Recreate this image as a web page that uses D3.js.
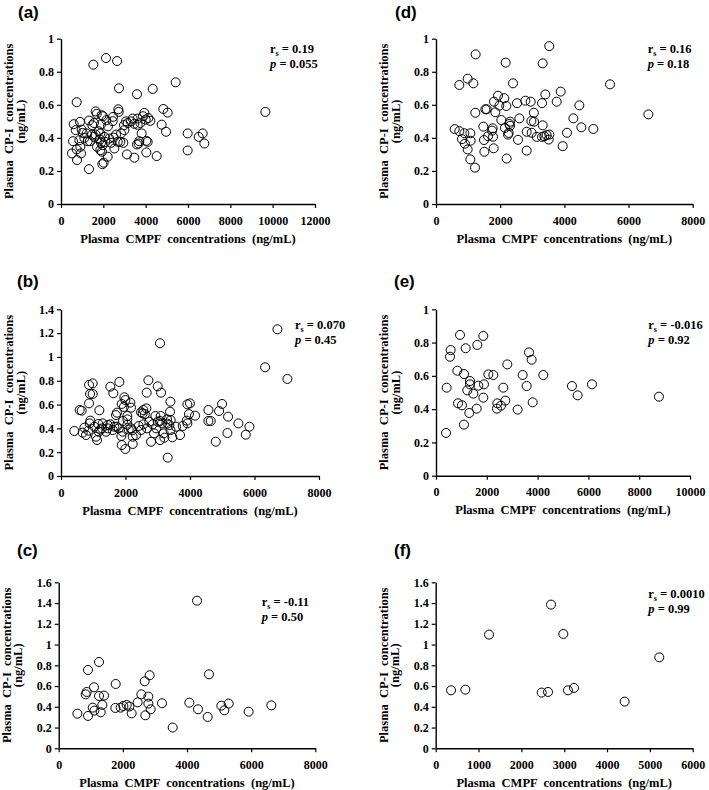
<!DOCTYPE html>
<html><head><meta charset="utf-8">
<script src="https://cdn.jsdelivr.net/npm/d3@7"></script>
<style>body{margin:0;background:#fff}svg text{white-space:pre}</style>
</head><body>
<svg id="chart" width="709" height="790"></svg>
<script>
// ---- data: [CMPF (ng/mL), CP-I (ng/mL)] ----
const dataA = [[740,0.616],[600,0.483],[898,0.497],[693,0.447],[977,0.45],[567,0.38],[866,0.386],[520,0.306],[756,0.266],[945,0.306],[740,0.33],[1323,0.211],[1638,0.56],[1323,0.505],[1559,0.49],[1480,0.477],[1685,0.545],[1921,0.537],[1985,0.531],[2142,0.507],[2457,0.527],[2709,0.573],[2725,0.557],[1890,0.481],[2441,0.501],[1213,0.427],[1465,0.419],[1103,0.40],[1370,0.38],[1575,0.406],[1859,0.427],[2048,0.406],[1890,0.37],[1969,0.356],[1859,0.326],[1937,0.316],[1701,0.346],[2284,0.396],[2489,0.402],[2678,0.376],[2835,0.427],[2804,0.376],[2945,0.37],[2520,0.336],[2977,0.477],[3150,0.49],[2993,0.447],[3386,0.517],[3622,0.517],[3874,0.531],[3748,0.49],[3622,0.479],[3937,0.551],[4221,0.503],[3811,0.427],[3701,0.38],[4032,0.382],[3670,0.366],[4095,0.376],[4032,0.312],[3118,0.30],[3465,0.28],[4520,0.29],[4756,0.48],[4961,0.437],[4835,0.575],[5040,0.553],[1953,0.241],[2016,0.25],[2205,0.286],[3591,0.664],[914,0.346],[1528,0.843],[2126,0.883],[2650,0.865],[2740,0.70],[4331,0.696],[5418,0.736],[9655,0.557],[5985,0.427],[5985,0.324],[6505,0.406],[6694,0.427],[6772,0.366],[1023,0.43],[1260,0.38],[1638,0.42],[1843,0.39],[2095,0.375],[2362,0.37],[2600,0.42],[3071,0.50],[3307,0.50],[3465,0.485],[4127,0.52],[3591,0.36],[4000,0.51],[1780,0.44],[2220,0.47]];
const dataB = [[869,0.765],[982,0.778],[900,0.689],[982,0.689],[869,0.61],[579,0.554],[641,0.549],[1189,0.552],[1530,0.75],[1623,0.695],[1810,0.79],[2709,0.804],[2657,0.70],[2999,0.753],[3102,0.70],[1965,0.661],[1996,0.638],[1882,0.605],[2151,0.616],[2171,0.574],[1737,0.532],[1706,0.512],[2058,0.504],[2058,0.476],[2482,0.535],[2554,0.554],[2533,0.526],[2647,0.568],[3392,0.624],[3381,0.54],[2926,0.504],[3092,0.504],[2844,0.434],[2999,0.456],[3071,0.462],[3133,0.442],[3288,0.476],[3361,0.428],[3392,0.386],[3454,0.325],[3205,0.322],[3071,0.302],[2792,0.288],[2885,0.358],[3185,0.358],[2668,0.40],[2554,0.434],[2482,0.386],[2740,0.456],[2213,0.384],[2171,0.40],[2223,0.33],[2327,0.344],[2058,0.431],[1923,0.462],[1913,0.372],[1872,0.336],[1882,0.26],[1996,0.227],[2223,0.269],[1727,0.414],[1654,0.414],[1530,0.434],[1448,0.428],[1293,0.442],[1158,0.437],[1034,0.414],[910,0.465],[889,0.442],[724,0.406],[672,0.364],[776,0.344],[848,0.381],[414,0.378],[1086,0.33],[1117,0.302],[1168,0.372],[1396,0.372],[1448,0.40],[1603,0.386],[3309,0.154],[3567,0.414],[3691,0.344],[6328,0.913],[7021,0.815],[3919,0.602],[3998,0.61],[3968,0.52],[4157,0.507],[3899,0.465],[3919,0.442],[3774,0.42],[4571,0.554],[4994,0.605],[4901,0.546],[4570,0.462],[4643,0.462],[5181,0.498],[5501,0.442],[5843,0.414],[5729,0.347],[5160,0.361],[4798,0.288],[3070,1.115],[6711,1.232],[1272,0.40],[1790,0.40],[2410,0.42],[2950,0.40],[3300,0.44],[1220,0.39],[2600,0.52],[3400,0.47],[2100,0.39],[1950,0.58]];
const dataC = [[582,0.334],[914,0.312],[914,0.755],[1257,0.832],[842,0.52],[873,0.543],[1101,0.588],[1257,0.504],[1413,0.508],[1060,0.392],[1112,0.363],[1309,0.347],[1361,0.418],[1766,0.389],[1777,0.62],[1932,0.392],[2016,0.408],[2120,0.418],[2203,0.402],[2275,0.337],[2462,0.443],[2577,0.52],[2681,0.646],[2701,0.318],[2795,0.498],[2795,0.431],[2836,0.704],[2867,0.376],[3221,0.434],[3553,0.20],[4073,0.44],[4312,1.423],[4343,0.376],[4644,0.302],[4686,0.713],[5070,0.411],[5164,0.366],[5299,0.431],[5922,0.353],[6629,0.414]];
const dataD = [[2172,0.855],[3325,0.851],[727,0.72],[987,0.758],[1164,0.73],[2400,0.73],[1932,0.655],[2130,0.64],[1808,0.619],[1974,0.595],[2192,0.593],[2525,0.61],[2784,0.625],[2951,0.619],[3304,0.61],[3408,0.663],[3761,0.619],[3886,0.68],[1226,0.552],[1538,0.573],[1579,0.573],[1849,0.555],[2036,0.508],[2307,0.498],[2598,0.518],[2972,0.502],[3055,0.498],[3050,0.552],[1475,0.468],[1766,0.458],[1746,0.444],[1621,0.41],[2150,0.46],[2286,0.484],[2307,0.473],[2265,0.43],[2556,0.388],[2244,0.42],[2826,0.437],[2982,0.431],[3138,0.406],[3325,0.476],[3304,0.406],[3377,0.41],[3449,0.417],[3533,0.42],[3512,0.39],[3948,0.35],[4083,0.431],[582,0.453],[727,0.441],[883,0.428],[1070,0.428],[810,0.392],[1080,0.383],[987,0.33],[1070,0.27],[1216,0.22],[1496,0.387],[1507,0.316],[1797,0.337],[1777,0.407],[2203,0.275],[2826,0.323],[3530,0.955],[1236,0.905],[5424,0.724],[6618,0.542],[4468,0.597],[4281,0.518],[4530,0.464],[4904,0.454],[900,0.365]];
const dataE = [[420,0.529],[394,0.257],[577,0.755],[551,0.715],[945,0.846],[1863,0.84],[1168,0.766],[1627,0.786],[840,0.631],[1102,0.611],[1338,0.569],[1338,0.549],[1233,0.513],[1469,0.493],[1666,0.541],[1889,0.549],[2060,0.609],[2257,0.605],[2808,0.669],[3661,0.741],[3765,0.697],[3411,0.605],[3569,0.539],[4225,0.605],[2650,0.529],[1863,0.469],[866,0.435],[1023,0.423],[1312,0.377],[1601,0.403],[2414,0.435],[2401,0.403],[2559,0.421],[2729,0.451],[3214,0.397],[3805,0.441],[1102,0.307],[5353,0.539],[5576,0.483],[6140,0.549],[8777,0.475]];
const dataF = [[358,0.559],[692,0.565],[1245,1.096],[2474,0.537],[2622,0.543],[2692,1.385],[2980,1.102],[3089,0.559],[3229,0.582],[4411,0.45],[5220,0.877]];

// ---- ticks & labels ----
const xTicks12k = [0,2000,4000,6000,8000,10000,12000];
const xTicks10k = [0,2000,4000,6000,8000,10000];
const xTicks8k  = [0,2000,4000,6000,8000];
const xTicks6k  = [0,1000,2000,3000,4000,5000,6000];
const yTicks10 = [0,0.2,0.4,0.6,0.8,1];
const yTicks14 = [0,0.2,0.4,0.6,0.8,1,1.2,1.4];
const yTicks16 = [0,0.2,0.4,0.6,0.8,1,1.2,1.4,1.6];
const panelLabels = ["(a)","(b)","(c)","(d)","(e)","(f)"];
const rsValues = ["0.19","0.070","-0.11","0.16","-0.016","0.0010"];
const pValues  = ["0.055","0.45","0.50","0.18","0.92","0.99"];
const yTitle1 = "Plasma  CP-I  concentrations";
const yTitle2 = "(ng/mL)";
const xTitle = "Plasma  CMPF  concentrations  (ng/mL)";

// ---- layout ----
const panels = [
  {data:dataA, xt:xTicks12k, yt:yTicks10, x0:61,   x1:315,   yT:38.7,  yB:204,   lx:18,  ly:18,  ax:270,   ay:53},
  {data:dataB, xt:xTicks8k,  yt:yTicks14, x0:61,   x1:319,   yT:309.3, yB:476,   lx:17,  ly:287, ax:295,   ay:329},
  {data:dataC, xt:xTicks8k,  yt:yTicks16, x0:58.7, x1:315.3, yT:582.3, yB:748.3, lx:17,  ly:556, ax:261.7, ay:606},
  {data:dataD, xt:xTicks8k,  yt:yTicks10, x0:436,  x1:692.7, yT:38.7,  yB:204,   lx:395, ly:18,  ax:647.7, ay:53},
  {data:dataE, xt:xTicks10k, yt:yTicks10, x0:436,  x1:690,   yT:309.3, yB:475.7, lx:394, ly:287, ax:648.3, ay:329.3},
  {data:dataF, xt:xTicks6k,  yt:yTicks16, x0:435.7,x1:692.7, yT:582.3, yB:748.3, lx:394, ly:556, ax:648.3, ay:598.3}
];

const svg = d3.select("#chart");
const serif = "'Liberation Serif','Times New Roman',serif";
const sans = "'Liberation Sans',Arial,sans-serif";

panels.forEach((p, i) => {
  const xs = d3.scaleLinear().domain([0, d3.max(p.xt)]).range([p.x0, p.x1]);
  const ys = d3.scaleLinear().domain([0, d3.max(p.yt)]).range([p.yB, p.yT]);
  const g = svg.append("g");

  const gx = g.append("g").attr("transform", `translate(0,${p.yB})`)
    .call(d3.axisBottom(xs).tickValues(p.xt).tickFormat(d => String(d)).tickSize(4).tickSizeOuter(0).tickPadding(8));
  const gy = g.append("g").attr("transform", `translate(${p.x0},0)`)
    .call(d3.axisLeft(ys).tickValues(p.yt).tickFormat(d => String(d)).tickSize(4).tickSizeOuter(0).tickPadding(3));
  [gx, gy].forEach(a => {
    a.selectAll("path.domain").attr("stroke", "#000").attr("stroke-width", 1.4);
    a.selectAll(".tick line").attr("stroke", "#000").attr("stroke-width", 1.2);
    a.selectAll(".tick text").attr("font-family", serif).attr("font-weight", "bold")
      .attr("font-size", 12).attr("fill", "#000");
  });

  g.append("g").selectAll("circle").data(p.data).join("circle")
    .attr("cx", d => xs(d[0])).attr("cy", d => ys(d[1])).attr("r", 4.5)
    .attr("fill", "none").attr("stroke", "#000").attr("stroke-width", 1);

  // panel label
  g.append("text").attr("x", p.lx).attr("y", p.ly).text(panelLabels[i])
    .attr("font-family", sans).attr("font-weight", "bold").attr("font-size", 17).attr("fill", "#000");

  // y title
  const cy = (p.yT + p.yB) / 2;
  [[yTitle1, -52], [yTitle2, -40.5]].forEach(([t, off]) => {
    g.append("text").attr("transform", `translate(${p.x0 + off},${cy}) rotate(-90)`)
      .attr("text-anchor", "middle").attr("dominant-baseline", "central")
      .attr("font-family", serif).attr("font-weight", "bold").attr("font-size", 12.5).attr("fill", "#000")
      .text(t);
  });

  // x title
  g.append("text").attr("x", (p.x0 + p.x1) / 2).attr("y", p.yB + 38.5)
    .attr("text-anchor", "middle").attr("font-family", serif).attr("font-weight", "bold")
    .attr("font-size", 12.5).attr("fill", "#000").text(xTitle);

  // stats
  const t1 = g.append("text").attr("x", p.ax).attr("y", p.ay)
    .attr("font-family", serif).attr("font-weight", "bold").attr("font-size", 12.5).attr("fill", "#000");
  t1.append("tspan").text("r");
  t1.append("tspan").attr("font-size", 8).attr("dy", 3).text("s");
  t1.append("tspan").attr("dy", -3).text(" = " + rsValues[i]);
  const t2 = g.append("text").attr("x", p.ax).attr("y", p.ay + 15)
    .attr("font-family", serif).attr("font-weight", "bold").attr("font-size", 12.5).attr("fill", "#000");
  t2.append("tspan").attr("font-style", "italic").text("p");
  t2.append("tspan").text(" = " + pValues[i]);
});
</script>
</body></html>
